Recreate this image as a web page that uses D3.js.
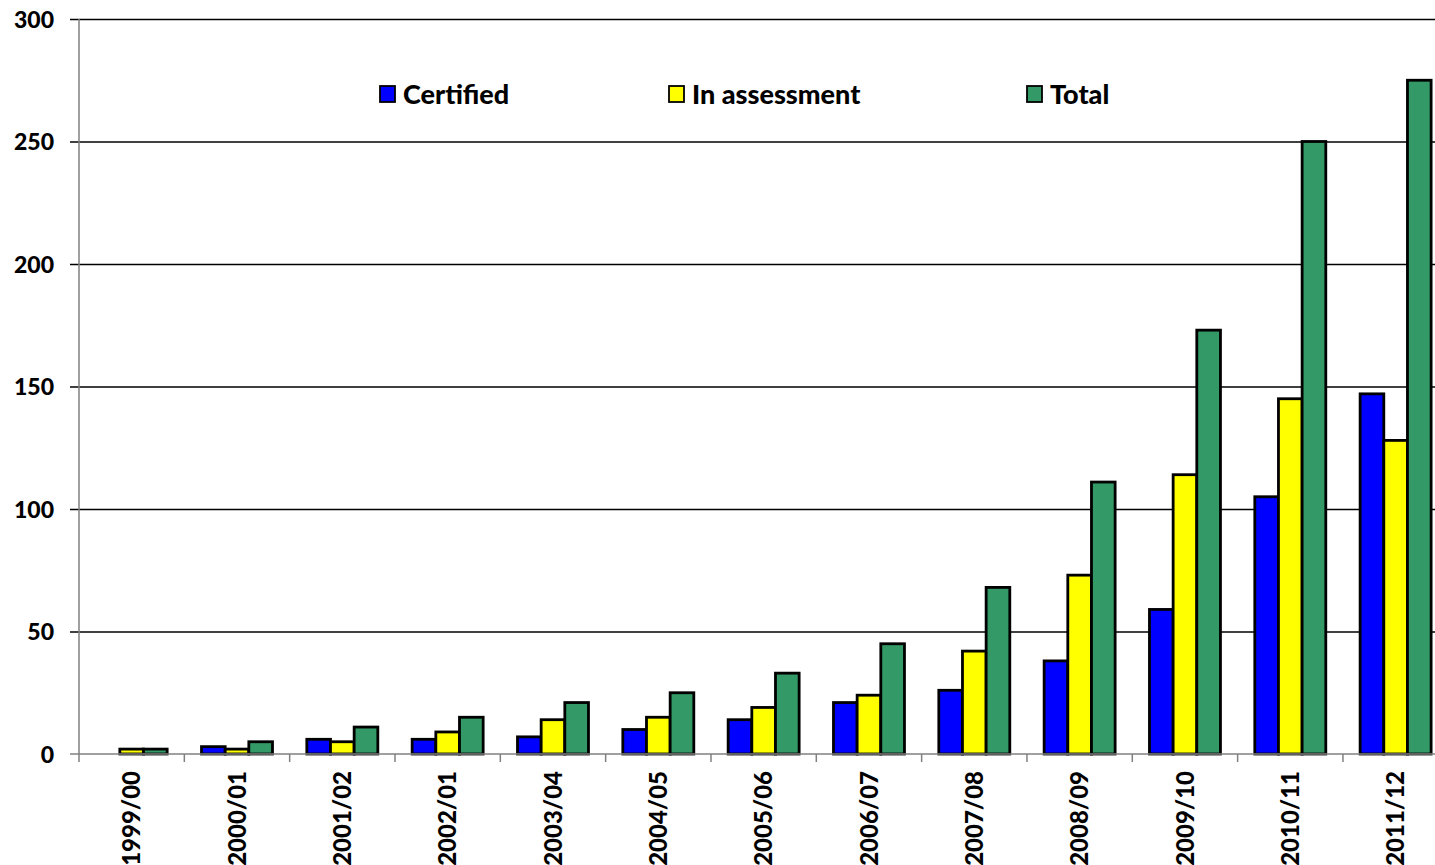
<!DOCTYPE html>
<html>
<head>
<meta charset="utf-8">
<script src="https://cdn.jsdelivr.net/npm/d3@7"></script>
<style>
  html, body { margin: 0; padding: 0; background: #fff; }
  svg { display: block; }
  text { font-family: Lato, "Open Sans", sans-serif; font-weight: 900; fill: #000; }
</style>
</head>
<body>
<svg id="chart" width="1435" height="865"></svg>
<script>
// Academic years on the category axis
const years = ["1999/00", "2000/01", "2001/02", "2002/01", "2003/04", "2004/05", "2005/06",
               "2006/07", "2007/08", "2008/09", "2009/10", "2010/11", "2011/12"];

// Counts per year
const certified    = [0, 3, 6, 6, 7, 10, 14, 21, 26, 38, 59, 105, 147];
const inAssessment = [2, 2, 5, 9, 14, 15, 19, 24, 42, 73, 114, 145, 128];
const total        = [2, 5, 11, 15, 21, 25, 33, 45, 68, 111, 173, 250, 275];

const seriesNames  = ["Certified", "In assessment", "Total"];
const seriesColors = ["#0000FF", "#FFFF00", "#339966"];
const yTicks = [0, 50, 100, 150, 200, 250, 300];

const seriesValues = [certified, inAssessment, total];
const rows = years.map((yr, i) => ({
  year: yr,
  values: seriesNames.map((s, k) => ({ series: s, value: seriesValues[k][i], color: seriesColors[k] }))
}));

const svg = d3.select("#chart");

const plotLeft = 79, plotTop = 19, plotBottom = 754, svgW = 1435;
const bandW = 105.33;
const x0 = d3.scaleBand().domain(years).range([plotLeft, plotLeft + bandW * years.length]).padding(0);
const groupGap = x0.bandwidth() * 0.326;
const x1 = d3.scaleBand().domain(seriesNames).range([groupGap / 2, x0.bandwidth() - groupGap / 2]).padding(0);
const y = d3.scaleLinear().domain([0, 300]).range([plotBottom, plotTop]);

// Horizontal gridlines with outward ticks
const grid = svg.append("g").attr("transform", `translate(${plotLeft},0)`)
  .call(d3.axisLeft(y).tickValues(yTicks).tickSize(9).tickSizeOuter(0).tickFormat(d3.format("d")).tickPadding(16));
grid.select(".domain").remove();
grid.selectAll(".tick line").attr("stroke", "#000").attr("stroke-width", 1.3)
  .attr("x1", -9).attr("x2", svgW - plotLeft);
grid.selectAll(".tick").filter(d => d === 0).select("line").remove();
grid.selectAll(".tick text").style("font-size", "23px").attr("dy", "0.36em");

// Y axis line
svg.append("line").attr("x1", plotLeft).attr("x2", plotLeft).attr("y1", plotTop).attr("y2", plotBottom)
  .attr("stroke", "#808080").attr("stroke-width", 1.5);

// Bars
const groups = svg.append("g").selectAll("g").data(rows).join("g")
  .attr("transform", d => `translate(${x0(d.year)},0)`);
groups.selectAll("rect").data(d => d.values).join("rect")
  .attr("x", d => x1(d.series))
  .attr("width", x1.bandwidth())
  .attr("y", d => y(d.value))
  .attr("height", d => y(0) - y(d.value))
  .attr("fill", d => d.color)
  .attr("stroke", "#000")
  .attr("stroke-width", 2.8);

// X axis: line, boundary ticks and rotated labels
const xAxisG = svg.append("g");
xAxisG.append("line").attr("x1", plotLeft - 9).attr("x2", svgW).attr("y1", plotBottom).attr("y2", plotBottom)
  .attr("stroke", "#808080").attr("stroke-width", 1.5);
const boundaries = d3.range(years.length + 1).map(i => plotLeft + i * x0.step());
xAxisG.selectAll("line.tk").data(boundaries).join("line").attr("class", "tk")
  .attr("x1", d => d).attr("x2", d => d).attr("y1", plotBottom).attr("y2", plotBottom + 8)
  .attr("stroke", "#808080").attr("stroke-width", 1.5);
xAxisG.selectAll("text").data(years).join("text")
  .attr("transform", d => `translate(${x0(d) + x0.bandwidth() / 2},${plotBottom + 17}) rotate(-90)`)
  .attr("text-anchor", "end")
  .attr("dy", "0.36em")
  .style("font-size", "24px")
  .text(d => d);

// Legend
const legendX = [380, 669, 1027];
const legend = svg.append("g").selectAll("g").data(seriesNames).join("g")
  .attr("transform", (d, i) => `translate(${legendX[i]},86)`);
legend.append("rect").attr("width", 15).attr("height", 16)
  .attr("fill", (d, i) => seriesColors[i]).attr("stroke", "#000").attr("stroke-width", 1.8);
legend.append("text").attr("x", 23).attr("y", 8).attr("dy", "0.36em")
  .style("font-size", "27px").text(d => d);
</script>
</body>
</html>
